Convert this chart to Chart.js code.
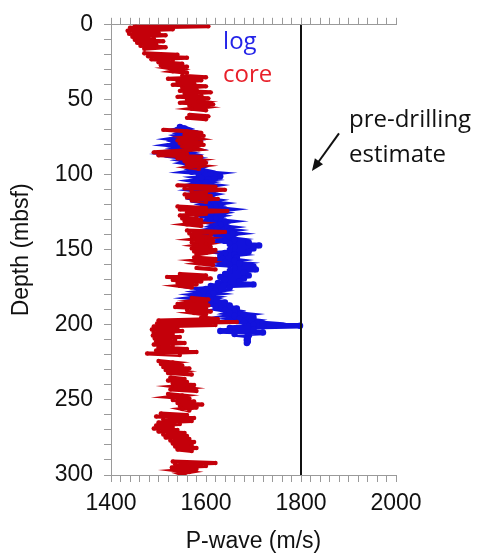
<!DOCTYPE html>
<html>
<head>
<meta charset="utf-8">
<script src="https://cdn.jsdelivr.net/npm/chart.js@4.4.1/dist/chart.umd.min.js"></script>
<style>
  html, body { margin:0; padding:0; background:#fff; }
  #wrap { width:481px; height:555px; }
</style>
</head>
<body>
<div id="wrap"><canvas id="vpChart" width="481" height="555"></canvas></div>
<script>
// core measurements (red), depth in mbsf, null = gap in recovery
const coreDepth = [
  0,1,2,3,4,5,6,7,8,9,10,11,12,13,14,15,16,17,
  19,20,21,22,23,24,25,26,27,28,29,30,31,32,33,
  34,35,36,37,38,39,40,41,42,43,44,45,46,47,48,49,50,51,52,53,54,55,56,57,58,
  60,61,62,63,66,
  70,71,72,73,74,75,76,77,78,79,80,81,82,83,84,85,86,87,88,89,90,91,92,93,94,95,96,100,
  107,108,109,110,111,112,113,114,115,116,117,118,119,
  121,122,123,124,125,126,127,128,129,130,131,132,133,134,135,
  137,138,139,140,141,142,143,144,145,146,147,148,149,150,151,152,153,154,
  155,156,157,158,159,160,161,
  162,163,164,
  166,167,168,169,170,171,172,173,174,175,178,
  182,183,184,185,186,187,188,189,190,191,192,193,194,
  195,196,197,198,199,200,201,202,203,204,205,206,207,208,209,210,211,212,213,214,215,216,217,218,219,220,222,
  224,225,226,227,228,229,230,231,232,233,234,
  235,236,237,238,239,240,241,242,243,244,245,
  246,247,248,249,250,251,252,253,254,255,256,257,258,
  259,260,261,262,263,264,265,266,267,268,269,270,271,272,273,274,275,276,277,278,279,280,281,282,283,284,287,
  291,292,293,294,295,296,297,298,299,300
];
const coreVel = [
  1450,1605,1440,1530,1435,1500,1438,1515,1445,1490,1450,1510,1455,1495,1462,1515,1470,null,
  1470,1540,1478,1560,1485,1530,1500,1550,1505,1560,1525,1545,1530,1560,null,
  1550,1600,1520,1590,1540,1575,1530,1600,1550,1580,1545,1610,1555,1590,1540,1605,1560,1585,1545,1615,1565,1595,1570,1600,null,
  1565,1605,1560,1600,null,
  1510,1560,1590,1555,1595,1560,1580,1540,1590,1545,1595,1550,1575,1585,1545,1490,1560,1500,1590,1540,1580,1555,1600,1560,1590,1565,1585,null,
  1540,1620,1555,1640,1570,1600,1555,1610,1560,1625,1570,1600,null,
  1540,1600,1545,1645,1560,1600,1545,1580,1550,1590,1555,1585,1560,1590,null,
  1560,1640,1565,1610,1570,1600,1575,1615,1570,1600,1580,1610,1570,1620,1575,1600,1580,null,
  1575,1620,1580,1605,1585,1615,null,
  1580,1620,null,
  1545,1600,1518,1610,1530,1590,1540,1580,1545,1570,null,
  1570,1605,1575,1600,1540,1605,1535,1600,1560,1610,1575,1600,null,
  1590,1625,1500,1665,1497,1620,1490,1540,1486,1550,1490,1530,1488,1545,1492,1535,1495,1555,1490,1530,1500,1560,1495,1580,1476,1545,null,
  1500,1530,1505,1550,1510,1565,1515,1545,1520,1570,null,
  1525,1555,1520,1560,1530,1575,1535,1560,1525,1580,null,
  1520,1550,1525,1565,1530,1575,1540,1592,1545,1580,1550,1565,null,
  1505,1560,1495,1575,1510,1570,1500,1545,1495,1530,1490,1540,1500,1555,1510,1560,1515,1565,1525,1575,1530,1570,1535,1580,1540,1570,null,
  1530,1620,1535,1600,1528,1580,1540,1565,1545,1555
];

// downhole log (blue)
const logDepth = [
  68,69,70,71,72,73,74,75,76,77,
  78,79,80,81,82,83,84,85,86,87,
  88,89,90,91,92,93,94,95,96,97,
  98,99,100,101,102,103,104,105,106,107,
  108,109,110,111,112,113,114,115,116,117,
  118,119,120,121,122,123,124,125,126,127,
  128,129,130,131,132,133,134,135,136,137,
  138,139,140,141,142,143,144,145,146,147,
  148,149,150,151,152,153,154,155,156,157,
  158,159,160,161,162,163,164,165,166,167,
  168,169,170,171,172,173,174,175,176,177,
  178,179,180,181,182,183,184,185,186,187,
  188,189,190,191,192,193,194,195,196,197,
  198,199,200,200.5,
  201,202,203,204,205,206,207,208,209,210,211,212
];
const logVel = [
  1545,1555,1540,1560,1550,1565,1545,1555,1535,1560,
  1540,1550,1530,1560,1545,1565,1540,1555,1530,1560,
  1545,1570,1555,1575,1560,1580,1570,1585,1575,1590,
  1570,1610,1585,1630,1590,1605,1580,1600,1585,1610,
  1590,1600,1580,1605,1590,1610,1595,1605,1590,1615,
  1600,1625,1605,1620,1610,1640,1615,1630,1610,1625,
  1605,1620,1610,1640,1615,1630,1620,1645,1625,1650,
  1630,1655,1625,1645,1635,1660,1640,1690,1650,1712,
  1660,1700,1650,1690,1640,1660,1630,1665,1635,1660,
  1640,1670,1650,1700,1660,1705,1650,1680,1640,1690,
  1630,1680,1640,1670,1625,1700,1610,1650,1600,1620,
  1595,1615,1585,1605,1580,1610,1600,1640,1610,1650,
  1620,1665,1640,1660,1650,1680,1660,1700,1670,1695,
  1680,1720,1700,1798,
  1720,1650,1700,1630,1720,1660,1690,1686,1688,1686,1688,1686
];

// pre-drilling estimate
const estVel = [1800, 1800];
const estDepth = [0, 300];

const toPts = (vel, depth) => depth.map((d, i) => ({ x: vel[i], y: d }));

const AXIS_FONT = { family: '"Liberation Sans", Arial, sans-serif', size: 23 };
const AXIS_GREY = '#9a9a9a';

// labels + arrow, placed in data units
const notes = {
  id: 'notes',
  afterDatasetsDraw(chart) {
    const { ctx, scales: { x, y } } = chart;
    ctx.save();
    ctx.textBaseline = 'alphabetic';
    ctx.font = '24px "Open Sans", sans-serif';
    ctx.fillStyle = '#2424e8';
    ctx.fillText('log', x.getPixelForValue(1636), y.getPixelForValue(15.8));
    ctx.fillStyle = '#e8202a';
    ctx.fillText('core', x.getPixelForValue(1636), y.getPixelForValue(38));
    ctx.fillStyle = '#111';
    ctx.fillText('pre-drilling', x.getPixelForValue(1901), y.getPixelForValue(68.4));
    ctx.fillText('estimate', x.getPixelForValue(1901), y.getPixelForValue(91.5));

    // arrow pointing at the estimate line
    const x0 = x.getPixelForValue(1880), y0 = y.getPixelForValue(72.4);
    const x1 = x.getPixelForValue(1823), y1 = y.getPixelForValue(97.4);
    const ang = Math.atan2(y1 - y0, x1 - x0);
    ctx.strokeStyle = '#111';
    ctx.lineWidth = 2;
    ctx.beginPath();
    ctx.moveTo(x0, y0);
    ctx.lineTo(x1 - 8 * Math.cos(ang), y1 - 8 * Math.sin(ang));
    ctx.stroke();
    ctx.beginPath();
    ctx.moveTo(x1, y1);
    ctx.lineTo(x1 - 12 * Math.cos(ang) + 5 * Math.sin(ang), y1 - 12 * Math.sin(ang) - 5 * Math.cos(ang));
    ctx.lineTo(x1 - 12 * Math.cos(ang) - 5 * Math.sin(ang), y1 - 12 * Math.sin(ang) + 5 * Math.cos(ang));
    ctx.closePath();
    ctx.fillStyle = '#111';
    ctx.fill();
    ctx.restore();
  }
};

new Chart(document.getElementById('vpChart'), {
  type: 'scatter',
  data: {
    datasets: [
      { label: 'estimate', data: toPts(estVel, estDepth), showLine: true, borderColor: '#111', borderWidth: 2, pointRadius: 0, order: 0 },
      { label: 'core', data: toPts(coreVel, coreDepth), showLine: true, borderColor: '#c4000a', backgroundColor: '#c4000a',
        borderWidth: 4, pointRadius: 2.2, pointBorderWidth: 0, spanGaps: false, order: 1 },
      { label: 'log', data: toPts(logVel, logDepth), showLine: true, borderColor: '#1212dc', backgroundColor: '#1212dc',
        borderWidth: 5.5, pointRadius: 3.2, pointBorderWidth: 0, spanGaps: false, order: 2 }
    ]
  },
  options: {
    responsive: false,
    animation: false,
    indexAxis: 'y',
    layout: { padding: { left: 0, top: 0, right: 85, bottom: 0 } },
    plugins: { legend: { display: false }, tooltip: { enabled: false } },
    scales: {
      x: {
        type: 'linear', position: 'bottom', min: 1400, max: 2000,
        ticks: { stepSize: 20, autoSkip: false, maxRotation: 0, padding: 8, color: '#111', font: AXIS_FONT,
          callback: v => (v % 200 === 0 ? v : '') },
        grid: { drawOnChartArea: false, tickLength: 7, color: AXIS_GREY },
        border: { color: AXIS_GREY },
        title: { display: true, text: 'P-wave (m/s)', color: '#111', font: AXIS_FONT, padding: { top: 0, bottom: 0 } },
        afterFit: s => { s.height = 80; }
      },
      xTop: {
        type: 'linear', position: 'top', min: 1400, max: 2000,
        ticks: { stepSize: 20, autoSkip: false, display: false },
        grid: { drawOnChartArea: false, tickLength: 7, color: AXIS_GREY },
        border: { color: AXIS_GREY },
        afterFit: s => { s.height = 19; }
      },
      y: {
        type: 'linear', reverse: true, min: 0, max: 300,
        ticks: { stepSize: 10, autoSkip: false, padding: 11, color: '#111', font: AXIS_FONT,
          callback: v => (v % 50 === 0 ? v : '') },
        grid: { drawOnChartArea: false, tickLength: 7, color: AXIS_GREY },
        border: { color: AXIS_GREY },
        title: { display: true, text: 'Depth (mbsf)', color: '#111', font: AXIS_FONT, padding: { top: 8, bottom: 0 } },
        afterFit: s => { s.width = 111; }
      }
    }
  },
  plugins: [notes]
});
</script>
</body>
</html>
